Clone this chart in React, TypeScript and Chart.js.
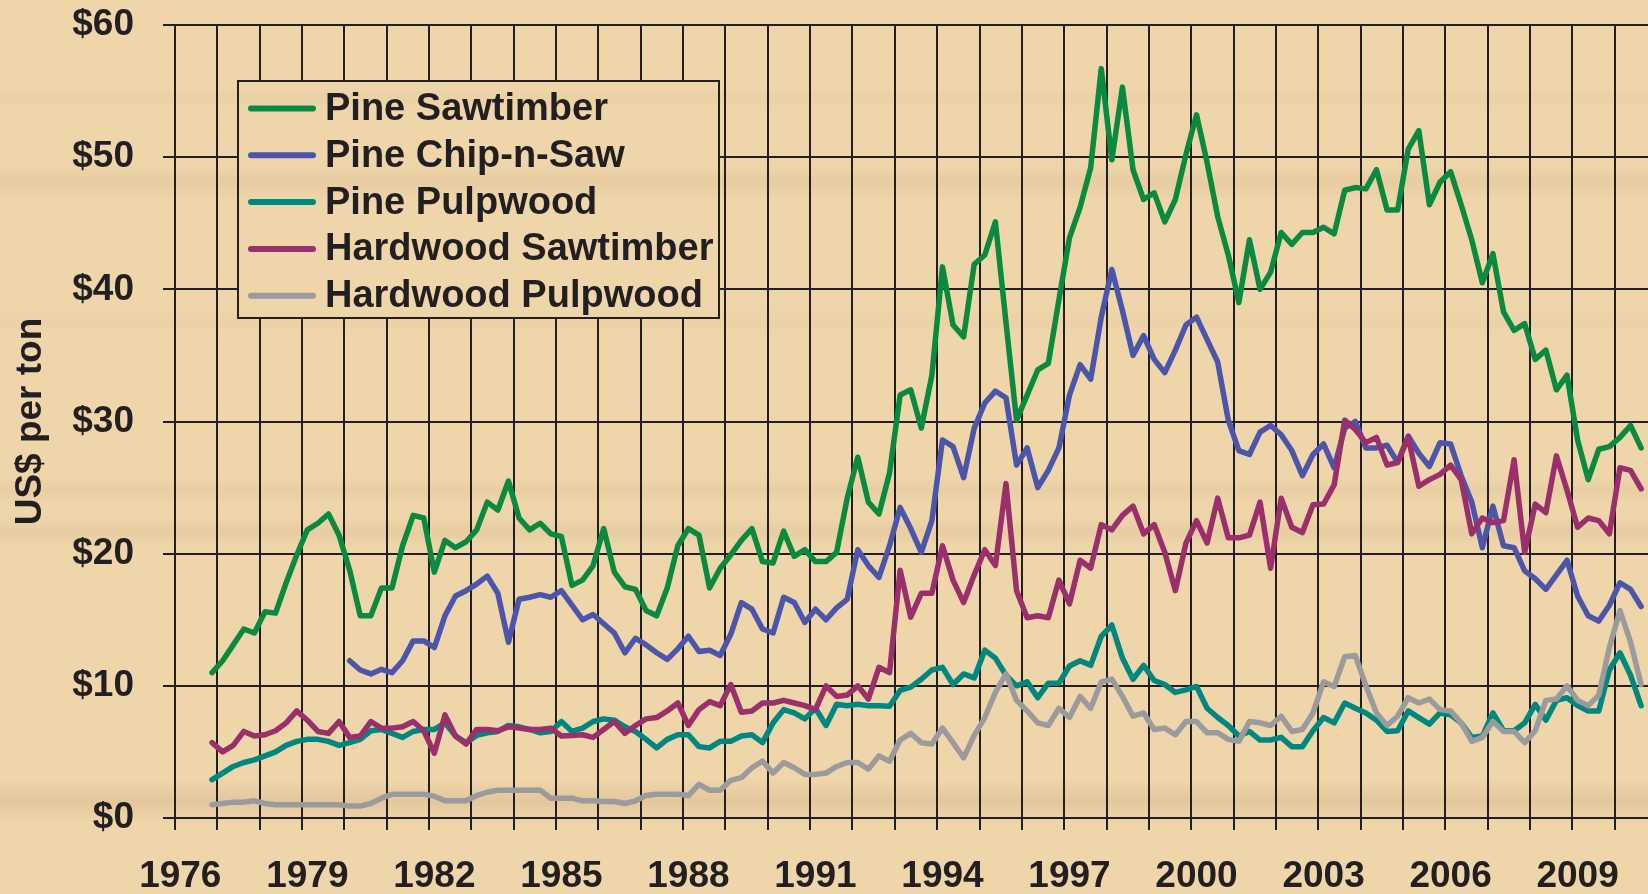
import React, { useEffect, useRef } from 'react';
import { Chart, registerables } from 'chart.js';

Chart.register(...registerables);

// ---------- categories (quarters) ----------
const years = [
  1976, 1977, 1978, 1979, 1980, 1981, 1982, 1983, 1984, 1985, 1986, 1987,
  1988, 1989, 1990, 1991, 1992, 1993, 1994, 1995, 1996, 1997, 1998, 1999,
  2000, 2001, 2002, 2003, 2004, 2005, 2006, 2007, 2008, 2009, 2010,
];
const quarterNames = ['Q1', 'Q2', 'Q3', 'Q4'];
// one label every 12 quarters (every 3 years)
const xTickLabels = ['1976', '1979', '1982', '1985', '1988', '1991', '1994', '1997', '2000', '2003', '2006', '2009'];
const yTickValues = [0, 10, 20, 30, 40, 50, 60];

const seriesNames = ['Pine Sawtimber', 'Pine Chip-n-Saw', 'Pine Pulpwood', 'Hardwood Sawtimber', 'Hardwood Pulpwood'];
const seriesColors = ['#0A8A3F', '#4B55AA', '#00877F', '#9A2F6B', '#9B9B9E'];

// ---------- series values (US$ per ton, quarterly from 1976 Q1) ----------
const pineSawtimber = [
  null, null, null,
  11.0, 11.9, 13.1, 14.3, 14.0, 15.6, 15.5, 17.8,
  19.9, 21.8, 22.3, 23.0, 21.4, 18.75, 15.3, 15.3, 17.4, 17.4,
  20.6, 22.9, 22.7, 18.6, 21.0, 20.45, 20.9, 21.8, 23.9, 23.3,
  25.5, 22.7, 21.8, 22.3, 21.5, 21.3, 17.6, 18.0, 19.1, 21.9,
  18.6, 17.5, 17.3, 15.7, 15.3, 17.4, 20.6, 21.9, 21.4, 17.4,
  18.9, 19.9, 21.0, 21.9, 19.4, 19.3, 21.7, 19.8, 20.3, 19.4,
  19.4, 20.1, 24.2, 27.3, 23.9, 23.0, 26.1, 32.0, 32.4, 29.5,
  33.5, 41.7, 37.3, 36.4, 41.9, 42.6, 45.1, 37.5, 30.1, 32.0,
  33.9, 34.4, 39.2, 43.9, 46.2, 49.2, 56.7, 49.8, 55.3, 49.05,
  46.8, 47.3, 45.1, 46.8, 50.2, 53.2, 49.6, 45.5, 42.6, 39.0,
  43.75, 40.0, 41.3, 44.3, 43.4, 44.3, 44.3, 44.7, 44.2, 47.5,
  47.7, 47.6, 49.05, 46.0, 46.0, 50.6, 52.0, 46.4, 48.1, 48.9,
  46.4, 43.75, 40.5, 42.7, 38.3, 36.9, 37.4, 34.7, 35.4, 32.4,
  33.5, 28.6, 25.6, 27.9, 28.1, 28.8, 29.7, 28.0,
];

const pineChipNSaw = [
  null, null, null, null, null, null, null, null,
  null, null, null, null, null, null, null, null,
  11.9, 11.2, 10.9, 11.25, 11.0, 11.9, 13.4, 13.4, 12.9, 15.3,
  16.8, 17.2, 17.7, 18.3, 17.0, 13.3, 16.55, 16.7, 16.9, 16.7,
  17.2, 16.1, 15.0, 15.4, 14.7, 14.0, 12.5, 13.6, 13.1, 12.5,
  12.0, 12.8, 13.75, 12.6, 12.7, 12.3, 13.9, 16.3, 15.8, 14.3,
  14.0, 16.7, 16.3, 14.8, 15.8, 15.0, 15.9, 16.55, 20.3, 19.1,
  18.2, 20.6, 23.5, 21.9, 20.1, 22.5, 28.6, 28.1, 25.75, 29.5,
  31.4, 32.3, 31.8, 26.7, 28.0, 25.0, 26.3, 28.0, 32.0, 34.3,
  33.2, 37.9, 41.5, 38.4, 35.0, 36.5, 34.7, 33.7, 35.4, 37.3,
  37.9, 36.2, 34.5, 30.1, 27.8, 27.5, 29.2, 29.7, 29.0, 27.8,
  25.9, 27.5, 28.3, 26.5, 29.5, 30.0, 28.0, 28.0, 28.2, 26.9,
  28.9, 27.6, 26.6, 28.4, 28.3, 25.9, 23.9, 20.45, 23.6, 20.6,
  20.45, 18.7, 18.1, 17.3, 18.4, 19.5, 16.8, 15.3, 14.9, 16.1,
  17.8, 17.3, 16.0,
];

const pinePulpwood = [
  null, null, null,
  2.9, 3.4, 3.9, 4.2, 4.4, 4.7, 5.0, 5.5, 5.8, 5.95,
  5.95, 5.8, 5.5, 5.7, 5.95, 6.6, 6.7, 6.4, 6.1, 6.55,
  6.7, 6.7, 7.2, 6.2, 5.7, 6.25, 6.45, 6.55, 7.0, 6.9,
  6.7, 6.45, 6.55, 7.3, 6.55, 6.8, 7.3, 7.5, 7.4, 6.9,
  6.55, 5.95, 5.3, 5.95, 6.3, 6.3, 5.4, 5.3, 5.8, 5.8,
  6.2, 6.3, 5.7, 7.2, 8.2, 7.95, 7.5, 8.3, 7.0, 8.6,
  8.5, 8.6, 8.5, 8.5, 8.45, 9.65, 9.9, 10.5, 11.2, 11.4,
  10.1, 10.9, 10.6, 12.7, 12.1, 10.8, 10.0, 10.3, 9.1, 10.2,
  10.2, 11.5, 11.9, 11.55, 13.75, 14.6, 12.1, 10.5, 11.55, 10.4,
  10.1, 9.5, 9.7, 9.95, 8.3, 7.6, 7.0, 6.2, 6.55, 5.9,
  5.9, 6.1, 5.4, 5.4, 6.6, 7.6, 7.2, 8.7, 8.3, 7.95,
  7.4, 6.55, 6.6, 8.1, 7.6, 7.1, 7.95, 7.8, 7.2, 6.1,
  6.2, 7.95, 6.6, 6.6, 7.2, 8.6, 7.4, 8.9, 9.1, 8.5,
  8.1, 8.1, 11.2, 12.5, 10.8, 8.5,
];

const hardwoodSawtimber = [
  null, null, null,
  5.7, 5.0, 5.5, 6.55, 6.2, 6.3, 6.6, 7.2, 8.1, 7.4,
  6.55, 6.4, 7.3, 6.1, 6.2, 7.3, 6.8, 6.8, 6.9, 7.3,
  6.6, 4.9, 7.8, 6.2, 5.6, 6.7, 6.7, 6.6, 6.9, 6.8,
  6.7, 6.7, 6.8, 6.2, 6.25, 6.3, 6.1, 6.7, 7.3, 6.4,
  7.0, 7.5, 7.6, 8.1, 8.7, 7.0, 8.2, 8.8, 8.5, 10.1,
  8.0, 8.1, 8.7, 8.7, 8.9, 8.7, 8.5, 8.2, 10.0, 9.2,
  9.3, 10.0, 9.0, 11.4, 11.0, 18.75, 15.2, 17.0, 17.0, 20.6,
  18.0, 16.3, 18.4, 20.3, 19.1, 25.3, 17.2, 15.15, 15.3, 15.15,
  18.0, 16.2, 19.5, 18.9, 22.2, 21.8, 22.9, 23.6, 21.5, 22.2,
  20.1, 17.2, 20.8, 22.5, 20.8, 24.2, 21.2, 21.2, 21.4, 23.9,
  18.9, 24.2, 22.0, 21.6, 23.7, 23.75, 25.2, 30.1, 29.4, 28.4,
  28.8, 26.7, 26.9, 28.8, 25.1, 25.6, 26.0, 26.7, 25.6, 21.5,
  22.7, 22.35, 22.5, 27.1, 20.1, 23.75, 23.1, 27.4, 24.8, 22.0,
  22.7, 22.5, 21.5, 26.5, 26.3, 24.9,
];

const hardwoodPulpwood = [
  null, null, null,
  1.0, 1.1, 1.2, 1.2, 1.3, 1.1, 1.0, 1.0, 1.0, 1.0,
  1.0, 1.0, 1.0, 0.9, 0.9, 1.1, 1.5, 1.8, 1.8, 1.8,
  1.8, 1.65, 1.3, 1.3, 1.3, 1.7, 1.95, 2.1, 2.1, 2.1,
  2.1, 2.1, 1.5, 1.5, 1.5, 1.3, 1.3, 1.25, 1.25, 1.1,
  1.3, 1.7, 1.8, 1.8, 1.8, 1.7, 2.55, 2.1, 2.1, 2.85,
  3.05, 3.8, 4.3, 3.4, 4.2, 3.8, 3.3, 3.3, 3.4, 3.9,
  4.2, 4.2, 3.7, 4.7, 4.3, 5.9, 6.4, 5.7, 5.6, 6.8,
  5.7, 4.55, 6.25, 7.6, 9.5, 10.9, 8.9, 8.1, 7.2, 7.0,
  8.3, 7.6, 9.2, 8.3, 10.3, 10.5, 9.2, 7.7, 7.95, 6.7,
  6.8, 6.3, 7.3, 7.3, 6.45, 6.45, 5.95, 5.8, 7.3, 7.2,
  7.0, 7.7, 6.55, 6.7, 7.95, 10.3, 9.95, 12.2, 12.3, 10.0,
  7.95, 7.0, 7.7, 9.1, 8.7, 9.0, 8.2, 8.1, 7.2, 5.8,
  6.1, 7.3, 6.55, 6.55, 5.7, 6.6, 8.9, 9.0, 10.0, 8.9,
  8.5, 9.3, 12.9, 15.7, 13.3, 10.1,
];

const seriesValues = [pineSawtimber, pineChipNSaw, pinePulpwood, hardwoodSawtimber, hardwoodPulpwood];

// ---------- styling ----------
const INK = '#231F20';
const FONT_FAMILY = '"Liberation Sans", Arial, Helvetica, sans-serif';
const BASE_BG = '#EED6AA';
const woodBands = [
  { y: 98, h: 10, a: 0.07 },
  { y: 182, h: 18, a: 0.13 },
  { y: 322, h: 12, a: 0.06 },
  { y: 490, h: 14, a: 0.1 },
  { y: 532, h: 16, a: 0.12 },
  { y: 801, h: 22, a: 0.2 },
];

function paintWood(ctx: CanvasRenderingContext2D, x: number, y: number, w: number, h: number) {
  ctx.save();
  ctx.beginPath();
  ctx.rect(x, y, w, h);
  ctx.clip();
  ctx.fillStyle = BASE_BG;
  ctx.fillRect(x, y, w, h);
  for (const b of woodBands) {
    const g = ctx.createLinearGradient(0, b.y - b.h, 0, b.y + b.h);
    g.addColorStop(0, 'rgba(190,135,105,0)');
    g.addColorStop(0.5, `rgba(190,135,105,${b.a})`);
    g.addColorStop(1, 'rgba(190,135,105,0)');
    ctx.fillStyle = g;
    ctx.fillRect(x, b.y - b.h, w, b.h * 2);
  }
  ctx.restore();
}

const CANVAS_W = 1662;
const CANVAS_H = 894;

export default function App() {
  const ref = useRef<HTMLCanvasElement | null>(null);

  useEffect(() => {
    const canvas = ref.current;
    if (!canvas) return;

    const categories = years.flatMap((yr) => quarterNames.map((q) => `${yr} ${q}`));

    const woodPlugin = {
      id: 'woodBackground',
      beforeDraw(chart: any) {
        paintWood(chart.ctx, 0, 0, chart.width, chart.height);
      },
    };

    const boxLegendPlugin = {
      id: 'boxLegend',
      afterDraw(chart: any) {
        const ctx: CanvasRenderingContext2D = chart.ctx;
        const bx = 238, by = 81, bw = 481, bh = 237;
        paintWood(ctx, bx, by, bw, bh);
        ctx.save();
        ctx.strokeStyle = INK;
        ctx.lineWidth = 2;
        ctx.strokeRect(bx, by, bw, bh);
        ctx.font = `bold 38px ${FONT_FAMILY}`;
        ctx.textBaseline = 'middle';
        ctx.textAlign = 'left';
        chart.data.datasets.forEach((ds: any, i: number) => {
          const y = 109.5 + i * 46.8;
          ctx.strokeStyle = ds.borderColor;
          ctx.lineWidth = 6;
          ctx.lineCap = 'round';
          ctx.beginPath();
          ctx.moveTo(251, y - 1);
          ctx.lineTo(313, y - 1);
          ctx.stroke();
          ctx.fillStyle = INK;
          ctx.fillText(ds.label, 325, y);
        });
        ctx.restore();
      },
    };

    const gridColor = (c: any) => (typeof c.index === 'number' && c.index % 4 === 0 ? INK : 'rgba(0,0,0,0)');

    const chart = new Chart(canvas, {
      type: 'line',
      data: {
        labels: categories,
        datasets: seriesNames.map((name, i) => ({
          label: name,
          data: seriesValues[i],
          borderColor: seriesColors[i],
          backgroundColor: seriesColors[i],
          borderWidth: 5.5,
          pointRadius: 0,
          pointHoverRadius: 0,
          tension: 0,
          spanGaps: false,
          fill: false,
          borderJoinStyle: 'round',
          borderCapStyle: 'round',
          order: seriesNames.length - i,
        })),
      },
      options: {
        responsive: false,
        animation: false,
        devicePixelRatio: 1,
        layout: { padding: { left: 0, right: 5, top: 25, bottom: 0 } },
        plugins: {
          legend: { display: false },
          tooltip: { enabled: false },
          title: { display: false },
        },
        scales: {
          x: {
            type: 'category',
            offset: true,
            grid: {
              offset: true,
              color: gridColor,
              tickColor: gridColor,
              lineWidth: 2,
              tickLength: 12,
              drawTicks: true,
            },
            border: { display: true, color: INK, width: 2 },
            ticks: {
              autoSkip: false,
              maxRotation: 0,
              minRotation: 0,
              padding: 25,
              color: INK,
              font: { family: FONT_FAMILY, size: 37, weight: 'bold' },
              callback: (_v: any, i: number) => (i % 12 === 0 ? xTickLabels[i / 12] ?? '' : ''),
            },
            afterFit: (s: any) => {
              s.height = CANVAS_H - 818;
              s.paddingLeft = 0;
              s.paddingRight = 0;
            },
          },
          y: {
            type: 'linear',
            min: yTickValues[0],
            max: yTickValues[yTickValues.length - 1],
            afterBuildTicks: (s: any) => {
              s.ticks = yTickValues.map((v) => ({ value: v }));
            },
            grid: { color: INK, lineWidth: 2, tickLength: 12, tickColor: INK },
            border: { display: true, color: INK, width: 2 },
            ticks: {
              padding: 29,
              color: INK,
              font: { family: FONT_FAMILY, size: 37, weight: 'bold' },
              callback: (v: any) => '$' + v,
            },
            title: {
              display: true,
              text: 'US$ per ton',
              color: INK,
              font: { family: FONT_FAMILY, size: 37, weight: 'bold' },
              padding: { top: 9, bottom: 0 },
            },
            afterFit: (s: any) => {
              s.width = 175;
              s.paddingTop = 0;
              s.paddingBottom = 0;
            },
          },
        },
      },
      plugins: [woodPlugin, boxLegendPlugin],
    } as any);

    return () => chart.destroy();
  }, []);

  return (
    <div
      style={{
        position: 'fixed',
        left: 0,
        top: 0,
        width: 1648,
        height: 894,
        overflow: 'hidden',
        background: BASE_BG,
      }}
    >
      <canvas ref={ref} width={CANVAS_W} height={CANVAS_H} style={{ display: 'block', width: CANVAS_W, height: CANVAS_H }} />
    </div>
  );
}
